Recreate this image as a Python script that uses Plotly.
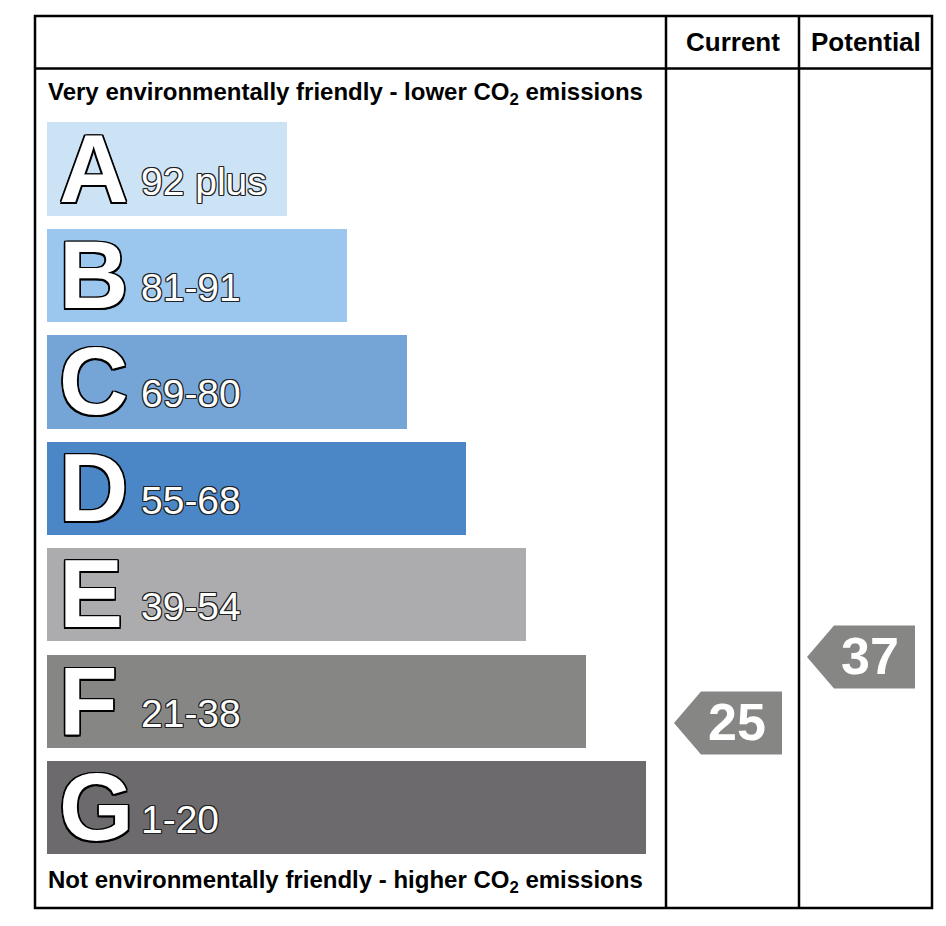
import plotly.graph_objects as go

# -------------- DATA -------------- #
bands = ["A", "B", "C", "D", "E", "F", "G"]
band_ranges = ["92 plus", "81-91", "69-80", "55-68", "39-54", "21-38", "1-20"]
band_low = [92, 81, 69, 55, 39, 21, 1]
band_high = [100, 91, 80, 68, 54, 38, 20]
band_colors = ["#cce2f5", "#9bc6ee", "#75a5d6", "#4b87c6", "#acabae", "#868785", "#6c6a6d"]

columns = ["Current", "Potential"]
ratings = [25, 37]
arrow_color = "#868785"

top_text = "Very environmentally friendly - lower CO<sub>2</sub> emissions"
bottom_text = "Not environmentally friendly - higher CO<sub>2</sub> emissions"

# -------------- LAYOUT HELPERS -------------- #
# the page body has an 8px margin, so the figure is 16px smaller than the window
OFF = 8
W, H = 946 - 2 * OFF, 926 - 2 * OFF
ROW = 106.45          # px per band
Y0 = 169.0            # page px centre of band A
BAR_H = 0.877         # bar thickness in band units
FONT = "Liberation Sans, Arial, sans-serif"
OUTLINE = ", ".join(
    f"{dx}px {dy}px 0 #000" for dx in (-1.5, 0, 1.5) for dy in (-1.5, 0, 1.5) if dx or dy
)
THIN_OUTLINE = ", ".join(
    f"{dx}px {dy}px 0 #222" for dx in (-1, 0, 1) for dy in (-1, 0, 1) if dx or dy
)


def py(y):
    # page pixel y -> paper
    return 1 - (y - OFF) / H


def px(x):
    return (x - OFF) / W


def band_of(score):
    for i, (lo, hi) in enumerate(zip(band_low, band_high)):
        if lo <= score <= hi:
            return i
    return len(bands) - 1


def score_y(score):
    # place the arrow inside its band, proportional to the score
    i = band_of(score)
    lo, hi = band_low[i], band_high[i]
    return i - BAR_H / 2 + (hi - score) / (hi - lo) * BAR_H - 3 / ROW


fig = go.Figure()

# ----- bands -----
idx = list(range(len(bands)))
fig.add_trace(
    go.Bar(
        y=idx,
        x=[240 + 59.8 * i for i in idx],
        base=47,
        orientation="h",
        width=BAR_H,
        marker=dict(color=band_colors, line_width=0),
        hoverinfo="skip",
    )
)

annotations = []
for i, (b, r) in enumerate(zip(bands, band_ranges)):
    annotations.append(
        dict(
            x=57, y=i, xref="x", yref="y", text=f"<b>{b}</b>", showarrow=False,
            xanchor="left", yanchor="middle", yshift=1,
            font=dict(family=FONT, size=96, color="white", shadow=OUTLINE),
        )
    )
    annotations.append(
        dict(
            x=139, y=i, xref="x", yref="y", text=r, showarrow=False,
            xanchor="left", yanchor="middle", yshift=-12,
            font=dict(family=FONT, size=39, color="white", shadow=THIN_OUTLINE),
        )
    )

# ----- rating arrows -----
col_left = [666, 799]
for c, s in zip(col_left, ratings):
    yc = score_y(s)
    h = 31.5 / ROW
    tip, notch, right = c + 8, c + 35, c + 116
    fig.add_trace(
        go.Scatter(
            x=[tip, notch, right, right, notch, tip],
            y=[yc, yc - h, yc - h, yc + h, yc + h, yc],
            fill="toself", fillcolor=arrow_color, mode="lines",
            line=dict(width=0, color=arrow_color), hoverinfo="skip",
        )
    )
    annotations.append(
        dict(
            x=c + 71, y=yc, xref="x", yref="y", text=f"<b>{s}</b>", showarrow=False,
            xanchor="center", yanchor="middle", yshift=1,
            font=dict(family=FONT, size=52, color="white"),
        )
    )

# ----- header and captions -----
for c, name in zip(col_left, columns):
    annotations.append(
        dict(
            x=px(c + 66.5), y=py(42), xref="paper", yref="paper", text=f"<b>{name}</b>",
            showarrow=False, xanchor="center", yanchor="middle",
            font=dict(family=FONT, size=26, color="black"),
        )
    )
for t, yy in [(top_text, 93), (bottom_text, 881)]:
    annotations.append(
        dict(
            x=px(46), y=py(yy), xref="paper", yref="paper", text=f"<b>{t}</b>",
            showarrow=False, xanchor="left", yanchor="middle",
            font=dict(family=FONT, size=24, color="black"),
        )
    )

# ----- table frame -----
line = dict(color="black", width=2.5)
shapes = [
    dict(type="rect", xref="paper", yref="paper", x0=px(35), x1=px(932), y0=py(16), y1=py(908), line=line),
    dict(type="line", xref="paper", yref="paper", x0=px(35), x1=px(932), y0=py(68.5), y1=py(68.5), line=line),
    dict(type="line", xref="paper", yref="paper", x0=px(666), x1=px(666), y0=py(16), y1=py(908), line=line),
    dict(type="line", xref="paper", yref="paper", x0=px(799), x1=px(799), y0=py(16), y1=py(908), line=line),
]

fig.update_layout(
    width=W,
    height=H,
    margin=dict(l=0, r=0, t=0, b=0),
    paper_bgcolor="white",
    plot_bgcolor="white",
    showlegend=False,
    annotations=annotations,
    shapes=shapes,
    bargap=0,
    xaxis=dict(range=[OFF, OFF + W], visible=False, fixedrange=True),
    yaxis=dict(range=[(OFF + H - Y0) / ROW, (OFF - Y0) / ROW], visible=False, fixedrange=True),
)

fig.write_html("out.html")
